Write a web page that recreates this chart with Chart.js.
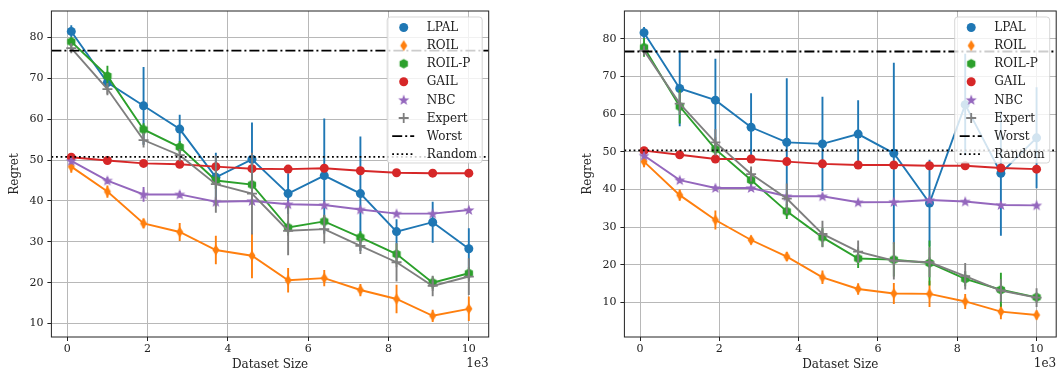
<!DOCTYPE html>
<html>
<head>
<meta charset="utf-8">
<script src="https://cdn.jsdelivr.net/npm/chart.js@4/dist/chart.umd.min.js"></script>
<style>
  body { margin: 0; background: #fff; }
  .panel { position: absolute; top: 0; height: 372px; }
  #left { left: 0; width: 530px; }
  #right { left: 530px; width: 533px; }
</style>
</head>
<body>
<div class="panel" id="left"><canvas id="chartLeft"></canvas></div>
<div class="panel" id="right"><canvas id="chartRight"></canvas></div>
<script>
// x values are dataset sizes; ticks shown in units of 1e3
const datasetSize = [100, 1000, 1900, 2800, 3700, 4600, 5500, 6400, 7300, 8200, 9100, 10000];
const xTicks = [0, 2000, 4000, 6000, 8000, 10000];
const yTicks = [10, 20, 30, 40, 50, 60, 70, 80];
const methods = ['LPAL', 'ROIL', 'ROIL-P', 'GAIL', 'NBC', 'Expert'];

// left panel
const lpalL = [81.5, 69.0, 63.3, 57.6, 45.8, 50.2, 41.8, 46.2, 41.8, 32.5, 34.8, 28.3];
const lpalErrL = [1.5, 1.5, 9.5, 3.5, 6.0, 9.0, 5.0, 14.0, 14.0, 3.0, 5.0, 5.0];
const roilL = [48.4, 42.3, 34.5, 32.4, 28.0, 26.6, 20.6, 21.1, 18.2, 16.0, 11.9, 13.6];
const roilErrL = [1.5, 1.5, 1.2, 2.2, 3.5, 5.5, 3.0, 2.0, 1.5, 3.5, 1.5, 3.0];
const roilpL = [79.0, 70.6, 57.5, 53.2, 45.0, 44.0, 33.5, 35.0, 31.1, 27.0, 20.0, 22.3];
const roilpErrL = [1.0, 2.5, 1.5, 1.5, 2.0, 2.0, 1.5, 1.5, 1.5, 2.5, 1.5, 1.5];
const gailL = [50.7, 49.9, 49.2, 49.0, 48.4, 47.9, 47.8, 48.0, 47.4, 46.9, 46.8, 46.8];
const gailErrL = [0.6, 0.6, 0.6, 0.6, 0.6, 0.6, 0.6, 0.6, 0.6, 0.6, 0.6, 0.6];
const nbcL = [49.8, 45.0, 41.6, 41.6, 39.8, 40.0, 39.2, 39.0, 37.9, 36.9, 36.9, 37.8];
const nbcErrL = [0.8, 0.8, 1.8, 0.8, 1.2, 0.8, 0.6, 0.6, 0.6, 0.6, 0.6, 0.6];
const expertL = [77.4, 67.4, 54.9, 51.2, 44.1, 41.8, 32.7, 33.1, 29.0, 25.0, 19.2, 21.5];
const expertErrL = [1.0, 1.5, 1.8, 1.5, 7.0, 10.0, 6.0, 3.5, 2.0, 4.7, 2.5, 4.5];
const worstL = 76.8;
const randomL = 50.8;

// right panel
const lpalR = [81.6, 66.8, 63.7, 56.5, 52.5, 52.1, 54.7, 49.6, 36.4, 62.5, 44.3, 53.7];
const lpalErrR = [1.5, 10.0, 11.0, 9.0, 17.0, 12.5, 9.0, 24.0, 11.5, 13.5, 16.6, 13.4];
const roilR = [47.4, 38.5, 31.9, 26.6, 22.2, 16.7, 13.6, 12.4, 12.3, 10.3, 7.6, 6.7];
const roilErrR = [1.5, 1.5, 2.5, 1.2, 1.2, 1.8, 1.5, 2.8, 3.5, 2.0, 2.0, 1.2];
const roilpR = [77.7, 62.0, 50.7, 42.5, 34.2, 27.3, 21.7, 21.4, 20.5, 16.3, 13.4, 11.4];
const roilpErrR = [2.5, 4.5, 2.0, 2.0, 2.0, 2.5, 2.5, 4.5, 6.0, 2.0, 4.5, 1.0];
const gailR = [50.3, 49.2, 48.1, 48.1, 47.4, 46.8, 46.5, 46.5, 46.3, 46.3, 45.7, 45.4];
const gailErrR = [0.7, 0.7, 0.7, 0.7, 0.7, 0.7, 0.7, 0.7, 0.7, 0.7, 0.7, 0.7];
const nbcR = [49.0, 42.5, 40.4, 40.4, 38.2, 38.2, 36.6, 36.7, 37.2, 36.8, 35.9, 35.8];
const nbcErrR = [0.7, 0.7, 0.7, 0.7, 0.7, 0.7, 0.7, 0.7, 0.7, 0.7, 0.7, 0.7];
const expertR = [76.8, 62.8, 52.5, 44.1, 37.6, 28.2, 23.5, 21.1, 20.7, 17.0, 13.2, 11.3];
const expertErrR = [1.0, 3.0, 3.5, 2.0, 4.0, 3.5, 3.0, 5.0, 4.0, 3.5, 3.0, 2.5];
const worstR = 76.6;
const randomR = 50.4;

const xMin = -395, xMax = 10495;
const colors = ['#1f77b4', '#ff7f0e', '#2ca02c', '#d62728', '#9467bd', '#7f7f7f'];
const FONT = 'DejaVu Serif';
const TEXT = '#222';
const LW = 1.9;

// marker images for shapes chart.js doesn't have
function makeMarker(color, draw) {
  const c = document.createElement('canvas');
  c.width = 14; c.height = 14;
  const g = c.getContext('2d');
  g.fillStyle = color;
  g.beginPath();
  draw(g);
  g.closePath();
  g.fill();
  return c;
}
const thinDiamond = makeMarker(colors[1], g => {
  g.moveTo(7, 1.5); g.lineTo(10.5, 7); g.lineTo(7, 12.5); g.lineTo(3.5, 7);
});
const hexagon = makeMarker(colors[2], g => {
  for (let k = 0; k < 6; k++) {
    const a = Math.PI / 2 + k * Math.PI / 3;
    g.lineTo(7 + 4.8 * Math.cos(a), 7 - 4.8 * Math.sin(a));
  }
});
const star = makeMarker(colors[4], g => {
  for (let k = 0; k < 10; k++) {
    const r = k % 2 ? 2.4 : 5.8;
    const a = Math.PI / 2 + k * Math.PI / 5;
    g.lineTo(7 + r * Math.cos(a), 7.4 - r * Math.sin(a));
  }
});
const markers = ['circle', thinDiamond, hexagon, 'circle', star, 'cross'];

function pts(vals) {
  return vals.map((v, i) => ({x: datasetSize[i], y: v}));
}

function buildDatasets(series, errs, worst, random) {
  const sets = series.map((vals, i) => ({
    label: methods[i],
    data: pts(vals),
    errors: errs[i],
    borderColor: colors[i],
    backgroundColor: colors[i],
    borderWidth: LW,
    pointStyle: markers[i],
    pointRadius: i === 5 ? 5 : 4.5,
    pointBorderWidth: i === 5 ? 1.8 : 0,
    pointBackgroundColor: colors[i],
    pointBorderColor: colors[i],
    order: 10 - i
  }));
  sets.push({
    label: 'Worst',
    data: [{x: xMin, y: worst}, {x: xMax, y: worst}],
    borderColor: '#000', borderWidth: 1.8, borderDash: [10, 3, 2, 3],
    pointRadius: 0, order: 2
  });
  sets.push({
    label: 'Random',
    data: [{x: xMin, y: random}, {x: xMax, y: random}],
    borderColor: '#000', borderWidth: 1.8, borderDash: [1.8, 2.8],
    pointRadius: 0, order: 1
  });
  return sets;
}

const errorBars = {
  id: 'errorBars',
  beforeDatasetDraw(chart, args) {
    const ds = chart.data.datasets[args.index];
    if (!ds.errors) return;
    const {ctx, chartArea} = chart;
    const x = chart.scales.x, y = chart.scales.y;
    ctx.save();
    Chart.helpers.clipArea(ctx, chartArea);
    ctx.strokeStyle = ds.borderColor;
    ctx.lineWidth = LW;
    ds.data.forEach((p, i) => {
      const px = x.getPixelForValue(p.x);
      ctx.beginPath();
      ctx.moveTo(px, y.getPixelForValue(p.y - ds.errors[i]));
      ctx.lineTo(px, y.getPixelForValue(p.y + ds.errors[i]));
      ctx.stroke();
    });
    Chart.helpers.unclipArea(ctx);
    ctx.restore();
  }
};

const frameAndLegend = {
  id: 'frameAndLegend',
  afterDatasetsDraw(chart) {
    const {ctx, chartArea: a} = chart;
    ctx.save();
    ctx.strokeStyle = '#222';
    ctx.lineWidth = 1;
    ctx.strokeRect(a.left, a.top, a.right - a.left, a.bottom - a.top);
    ctx.restore();
  },
  afterDraw(chart) {
    const {ctx, chartArea: a} = chart;
    ctx.save();
    // offset text of the x axis
    ctx.fillStyle = TEXT;
    ctx.font = '12px "' + FONT + '"';
    ctx.textAlign = 'right';
    ctx.textBaseline = 'middle';
    ctx.fillText('1e3', a.right, 364);

    // legend box
    const w = 95, h = 146;
    const bx = a.right - 6.5 - w, by = a.top + 6;
    ctx.globalAlpha = 0.8;
    ctx.fillStyle = '#fff';
    ctx.strokeStyle = '#cccccc';
    ctx.lineWidth = 1;
    ctx.beginPath();
    ctx.roundRect(bx, by, w, h, 3);
    ctx.fill();
    ctx.stroke();
    ctx.globalAlpha = 1;

    chart.data.datasets.forEach((ds, i) => {
      const cy = by + 10.5 + i * 18.1;
      if (ds.errors) {
        ctx.fillStyle = ds.backgroundColor;
        ctx.strokeStyle = ds.borderColor;
        ctx.lineWidth = ds.pointBorderWidth;
        Chart.helpers.drawPoint(ctx, {
          pointStyle: ds.pointStyle, radius: ds.pointRadius, rotation: 0,
          borderWidth: ds.pointBorderWidth
        }, bx + 16.5, cy);
      } else {
        ctx.strokeStyle = ds.borderColor;
        ctx.lineWidth = ds.borderWidth;
        ctx.setLineDash(ds.borderDash);
        ctx.beginPath();
        ctx.moveTo(bx + 5, cy);
        ctx.lineTo(bx + 27, cy);
        ctx.stroke();
        ctx.setLineDash([]);
      }
      ctx.fillStyle = TEXT;
      ctx.font = '12px "' + FONT + '"';
      ctx.textAlign = 'left';
      ctx.textBaseline = 'middle';
      ctx.fillText(ds.label, bx + 39.5, cy + 0.5);
    });
    ctx.restore();
  }
};

function makeChart(id, datasets, yMin, yMax, padLeft, padRight) {
  const tickFont = {family: FONT, size: 11};
  const titleFont = {family: FONT, size: 12};
  return new Chart(document.getElementById(id), {
    type: 'line',
    data: {datasets: datasets},
    options: {
      responsive: true,
      maintainAspectRatio: false,
      animation: false,
      layout: {padding: {left: padLeft, right: padRight, top: 11, bottom: 0}},
      plugins: {legend: {display: false}, tooltip: {enabled: false}},
      scales: {
        x: {
          type: 'linear',
          min: xMin,
          max: xMax,
          afterBuildTicks: s => { s.ticks = xTicks.map(v => ({value: v})); },
          afterFit: s => { s.height = 35; },
          ticks: {
            font: tickFont, color: TEXT, padding: 2, maxRotation: 0,
            callback: v => String(v / 1000)
          },
          grid: {color: '#b8b8b8', lineWidth: 1, tickColor: '#222', tickLength: 4},
          border: {display: false},
          title: {display: true, text: 'Dataset Size', font: titleFont, color: TEXT, padding: {top: 0, bottom: 0}}
        },
        y: {
          min: yMin,
          max: yMax,
          afterBuildTicks: s => { s.ticks = yTicks.map(v => ({value: v})); },
          afterFit: s => { s.width = 51.4; },
          ticks: {font: tickFont, color: TEXT, padding: 4},
          grid: {color: '#b8b8b8', lineWidth: 1, tickColor: '#222', tickLength: 4},
          border: {display: false},
          title: {display: true, text: 'Regret', font: titleFont, color: TEXT, padding: {top: 8, bottom: 0}}
        }
      }
    },
    plugins: [errorBars, frameAndLegend]
  });
}

makeChart('chartLeft',
  buildDatasets([lpalL, roilL, roilpL, gailL, nbcL, expertL],
    [lpalErrL, roilErrL, roilpErrL, gailErrL, nbcErrL, expertErrL], worstL, randomL),
  6.7, 86.5, 0, 41.3);

makeChart('chartRight',
  buildDatasets([lpalR, roilR, roilpR, gailR, nbcR, expertR],
    [lpalErrR, roilErrR, roilpErrR, gailErrR, nbcErrR, expertErrR], worstR, randomR),
  0.87, 87.35, 43, 1.3);
</script>
</body>
</html>
